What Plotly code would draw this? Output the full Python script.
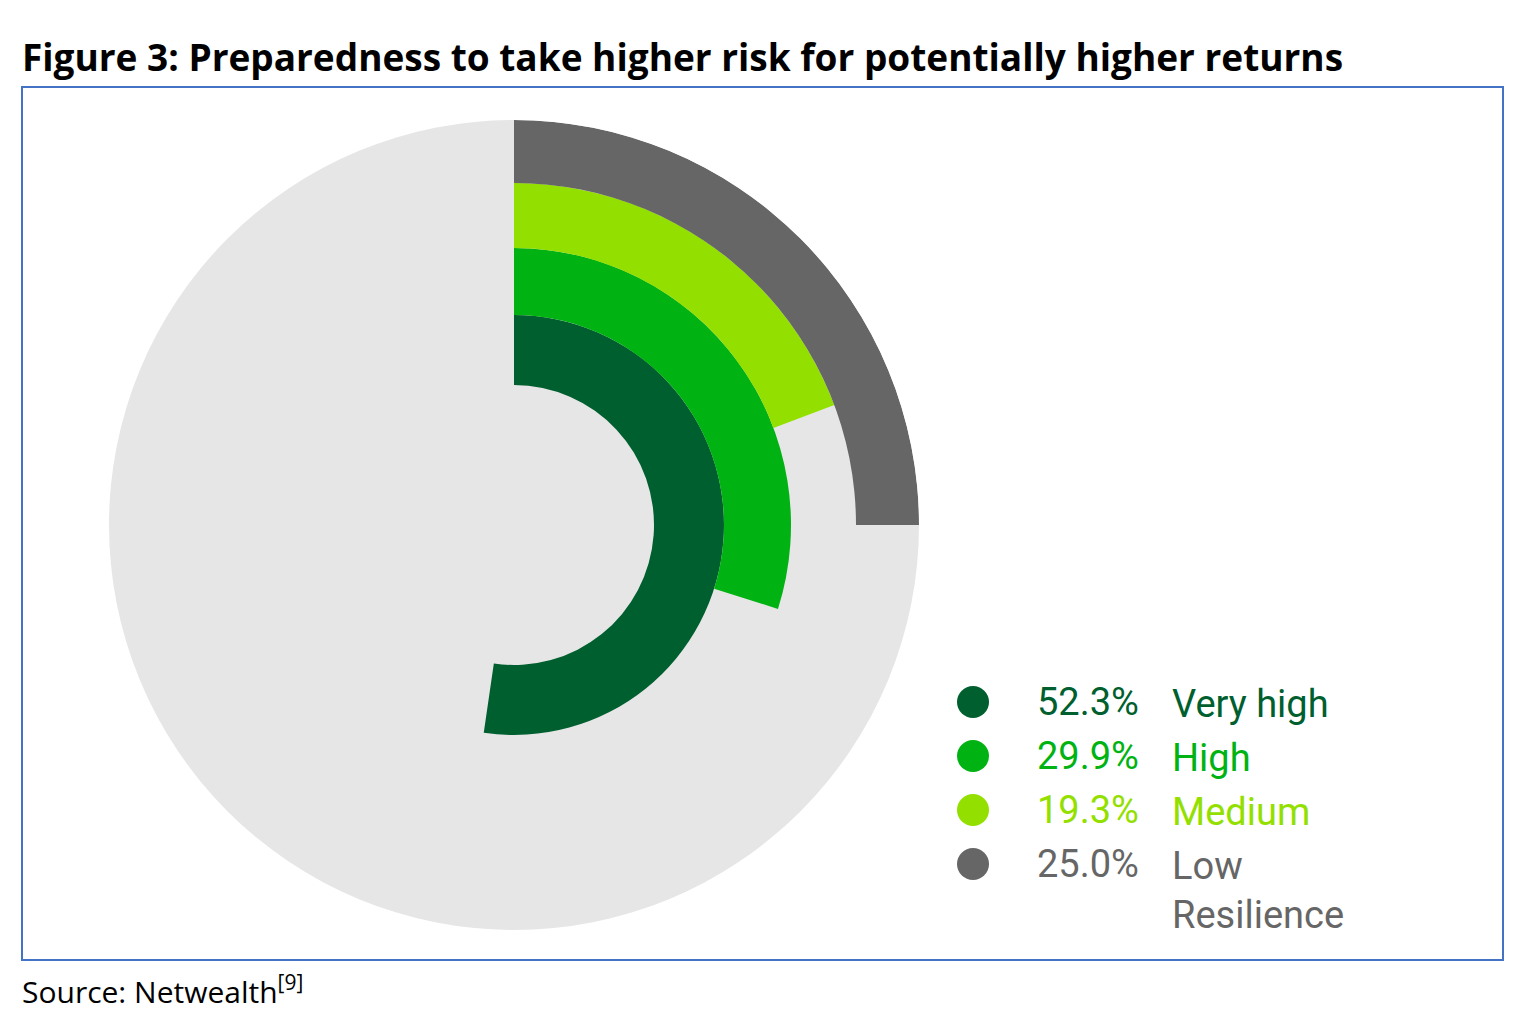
import plotly.graph_objects as go

labels = ["Very high", "High", "Medium", "Low<br>Resilience"]
pcts = [52.3, 29.9, 19.3, 25.0]
colors = ["#005f2e", "#00b312", "#93e000", "#666666"]
inner = [140, 210, 277, 342]
outer = [210, 277, 342, 405]

W, H = 1536, 1036
off = 8  # page offset seen in the render
cx, cy, R = 514 - off, 525 - off, 405

fig = go.Figure()
for lab, p, c, r0, r1 in zip(labels, pcts, colors, inner, outer):
    w = p / 100 * 360
    fig.add_trace(go.Barpolar(
        r=[r1 - r0], base=[r0], theta=[w / 2], width=[w],
        marker=dict(color=c, line=dict(width=0)), name=lab, showlegend=False))

fig.update_layout(
    width=W, height=H, margin=dict(l=0, r=0, t=0, b=0),
    paper_bgcolor="white",
    polar=dict(
        domain=dict(x=[(cx - R) / W, (cx + R) / W], y=[(H - cy - R) / H, (H - cy + R) / H]),
        bgcolor="#e6e6e6", hole=0,
        radialaxis=dict(range=[0, R], visible=False),
        angularaxis=dict(rotation=90, direction="clockwise", visible=False, showgrid=False),
    ),
)

def px(x):
    return (x - off) / W

def py(y):
    return 1 - (y - off) / H

# border box
fig.add_shape(type="rect", xref="paper", yref="paper",
              x0=px(22), x1=px(1503), y0=py(960), y1=py(87),
              line=dict(color="#4472c4", width=2))

fig.add_annotation(text="<b>Figure 3: Preparedness to take higher risk for potentially higher returns</b>",
                   xref="paper", yref="paper", x=px(20), y=py(57), xanchor="left", yanchor="middle",
                   showarrow=False, font=dict(family="Open Sans", size=37, color="black"))
fig.add_annotation(text="Source: Netwealth<sup>[9]</sup>", xref="paper", yref="paper",
                   x=px(20), y=py(990), xanchor="left", yanchor="middle",
                   showarrow=False, font=dict(family="Open Sans", size=30, color="black"))

# legend
ys = [702, 756, 810, 864]
for lab, p, c, y in zip(labels, pcts, colors, ys):
    fig.add_shape(type="circle", xref="paper", yref="paper",
                  x0=px(973 - 16), x1=px(973 + 16), y0=py(y + 16), y1=py(y - 16),
                  fillcolor=c, line=dict(width=0))
    fig.add_annotation(text=f"{p:.1f}%", xref="paper", yref="paper", x=px(1141), y=py(y),
                       xanchor="right", yanchor="middle", showarrow=False,
                       font=dict(family="Roboto", size=38, color=c))
    fig.add_annotation(text=lab, xref="paper", yref="paper", x=px(1170), y=py(y - 22),
                       xanchor="left", yanchor="top", showarrow=False, align="left",
                       font=dict(family="Roboto", size=38, color=c))

fig.write_html("out.html")
